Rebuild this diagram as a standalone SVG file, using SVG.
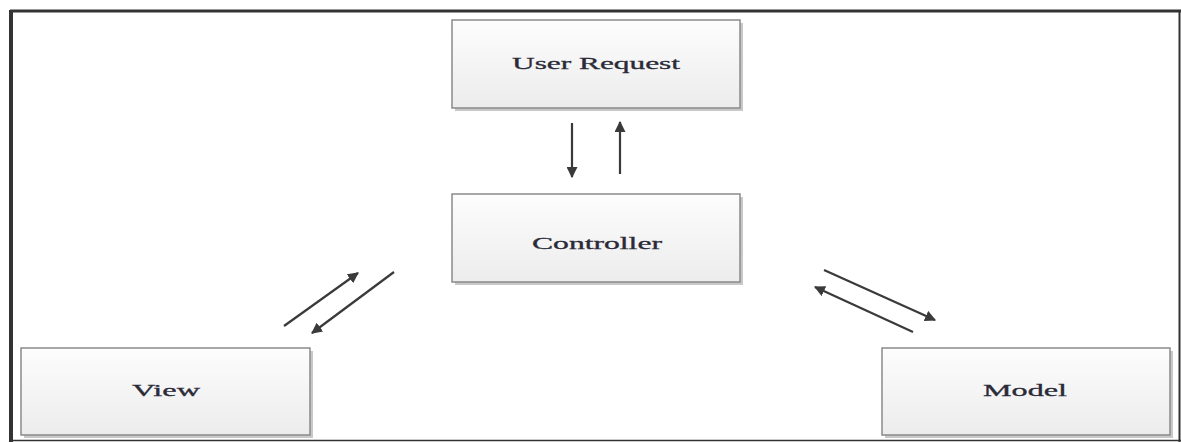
<svg xmlns="http://www.w3.org/2000/svg" width="1181" height="442" viewBox="0 0 1181 442">
  <style>
    .box { fill: url(#boxFill); stroke: #8a8a8a; stroke-width: 1.5; }
    .shadow { fill: #c8c8c8; }
    .label { font-family: "Liberation Serif", "Times New Roman", serif; font-size: 17px; fill: #2a2a38; stroke: #2a2a38; stroke-width: 0.3; text-anchor: middle; }
    .link { stroke: #3a3a3a; stroke-width: 2.2; fill: none; marker-end: url(#head); }
    .frame { stroke: #333; fill: none; }
  </style>
  <defs>
    <linearGradient id="boxFill" x1="0" y1="0" x2="0" y2="1">
      <stop offset="0" stop-color="#fdfdfd"/>
      <stop offset="1" stop-color="#ececec"/>
    </linearGradient>
    <marker id="head" viewBox="0 0 10 10" refX="9" refY="5" markerWidth="5" markerHeight="5" orient="auto" markerUnits="strokeWidth">
      <path d="M0,0 L10,5 L0,10 Z" fill="#3a3a3a"/>
    </marker>
  </defs>

  <rect width="1181" height="442" fill="#ffffff"/>

  <!-- outer frame -->
  <g id="frame">
    <line class="frame" x1="10" y1="11" x2="1181" y2="11" stroke-width="3"/>
    <line class="frame" x1="11" y1="10" x2="11" y2="442" stroke-width="4"/>
    <line class="frame" x1="1179.5" y1="10" x2="1179.5" y2="442" stroke-width="2" stroke="#666"/>
    <line class="frame" x1="10" y1="440.5" x2="1181" y2="440.5" stroke-width="1.5" stroke="#777"/>
  </g>

  <g id="user-request">
    <rect class="shadow" x="455" y="23" width="288" height="88"/>
    <rect class="box" x="452" y="20" width="288" height="88"/>
    <text class="label" x="596" y="69" textLength="168" lengthAdjust="spacingAndGlyphs">User Request</text>
  </g>

  <g id="controller">
    <rect class="shadow" x="455" y="197" width="288" height="88"/>
    <rect class="box" x="452" y="194" width="288" height="88"/>
    <text class="label" x="597" y="249" textLength="130" lengthAdjust="spacingAndGlyphs">Controller</text>
  </g>

  <g id="view">
    <rect class="shadow" x="24" y="351" width="289" height="87"/>
    <rect class="box" x="21" y="348" width="289" height="87"/>
    <text class="label" x="166" y="396" textLength="68" lengthAdjust="spacingAndGlyphs">View</text>
  </g>

  <g id="model">
    <rect class="shadow" x="885" y="351" width="288" height="87"/>
    <rect class="box" x="882" y="348" width="288" height="87"/>
    <text class="label" x="1025" y="396" textLength="84" lengthAdjust="spacingAndGlyphs">Model</text>
  </g>

  <g id="connectors">
    <line class="link" x1="572" y1="123" x2="572" y2="177"/>
    <line class="link" x1="620" y1="174" x2="620" y2="122"/>
    <line class="link" x1="284" y1="326" x2="358" y2="273"/>
    <line class="link" x1="394" y1="272" x2="312" y2="333"/>
    <line class="link" x1="824" y1="270" x2="935" y2="320"/>
    <line class="link" x1="913" y1="332" x2="815" y2="287"/>
  </g>
</svg>
